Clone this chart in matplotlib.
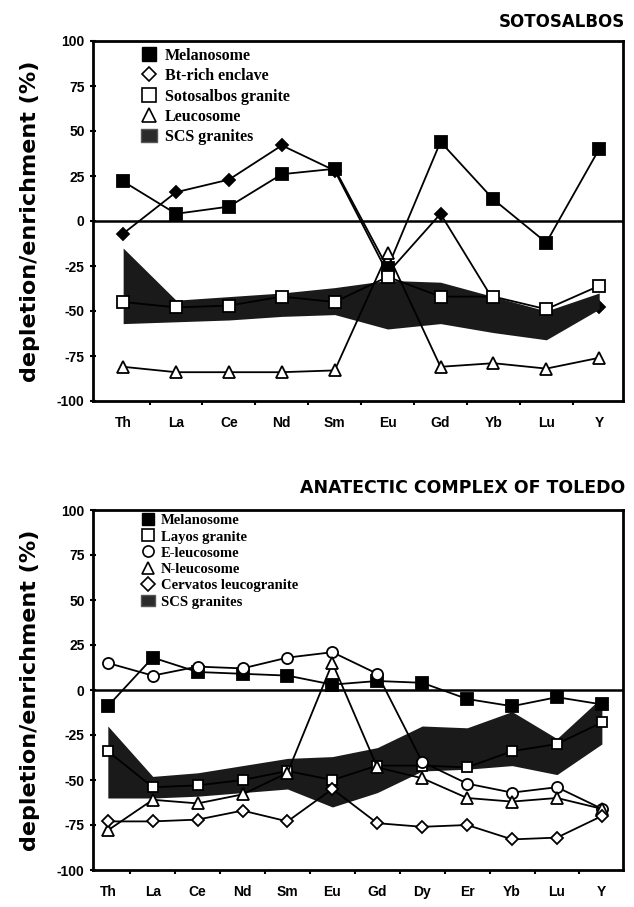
import numpy as np
import matplotlib
matplotlib.use('Agg')
import matplotlib.pyplot as plt
from matplotlib.lines import Line2D
from matplotlib.patches import Patch

# ---- Sotosalbos (top panel) ----
elements_top = ['Th', 'La', 'Ce', 'Nd', 'Sm', 'Eu', 'Gd', 'Yb', 'Lu', 'Y']
melanosome_top = [22, 4, 8, 26, 29, -26, 44, 12, -12, 40]
bt_enclave = [-7, 16, 23, 42, 28, -29, 4, -44, -55, -48]
sotosalbos_granite = [-45, -48, -47, -42, -45, -31, -42, -42, -49, -36]
leucosome_top = [-81, -84, -84, -84, -83, -18, -81, -79, -82, -76]
scs_top_hi = [-15, -44, -42, -40, -37, -33, -34, -42, -50, -40]
scs_top_lo = [-57, -56, -55, -53, -52, -60, -57, -62, -66, -49]

# ---- Anatectic complex of Toledo (bottom panel) ----
elements_bot = ['Th', 'La', 'Ce', 'Nd', 'Sm', 'Eu', 'Gd', 'Dy', 'Er', 'Yb', 'Lu', 'Y']
melanosome_bot = [-9, 18, 10, 9, 8, 3, 5, 4, -5, -9, -4, -8]
layos_granite = [-34, -54, -53, -50, -45, -50, -42, -42, -43, -34, -30, -18]
e_leucosome = [15, 8, 13, 12, 18, 21, 9, -40, -52, -57, -54, -66]
n_leucosome = [-78, -61, -63, -58, -46, 15, -43, -49, -60, -62, -60, -66]
cervatos = [-73, -73, -72, -67, -73, -55, -74, -76, -75, -83, -82, -70]
scs_bot_hi = [-20, -48, -46, -42, -38, -37, -32, -20, -21, -12, -27, -4]
scs_bot_lo = [-60, -60, -59, -57, -55, -65, -57, -45, -44, -42, -47, -30]

yticks = [-100, -75, -50, -25, 0, 25, 50, 75, 100]

BAND = '#1a1a1a'
TICKFONT = 'Liberation Sans'
LEGFONT = 'Liberation Serif'


def series(ax, vals, marker, face, ms, z=4):
    x = np.arange(len(vals))
    ax.plot(x, vals, color='black', lw=1.3, marker=marker, ms=ms,
            mfc=face, mec='black', mew=1.3, zorder=z)


def frame(ax, labels, xlim):
    n = len(labels)
    ax.set_xlim(*xlim)
    ax.set_ylim(-100, 100)
    ax.axhline(0, color='black', lw=1.8, zorder=1)
    ax.set_xticks(np.arange(n))
    ax.set_xticklabels(labels, fontfamily=TICKFONT, fontweight='bold', fontsize=10)
    ax.set_xticks(np.arange(n - 1) + 0.5, minor=True)
    ax.tick_params(axis='x', which='major', length=0, pad=11)
    ax.tick_params(axis='x', which='minor', length=3, width=1.5, direction='out')
    ax.set_yticks(yticks)
    ax.set_yticklabels([str(v) for v in yticks], fontfamily=TICKFONT,
                       fontweight='bold', fontsize=10)
    ax.tick_params(axis='y', length=4, width=1.5, direction='inout', pad=4)
    for s in ax.spines.values():
        s.set_linewidth(2)
    ax.set_ylabel('depletion/enrichment (%)', fontfamily='DejaVu Sans',
                  fontweight='bold', fontsize=16, labelpad=12)


fig = plt.figure(figsize=(6.34, 9.07), dpi=100)

# top panel
ax1 = fig.add_axes([93 / 634, 1 - 401 / 907, 530 / 634, 360 / 907])
x1 = np.arange(len(elements_top))
series(ax1, bt_enclave, 'D', 'black', 6.5, z=2)
ax1.fill_between(x1, scs_top_lo, scs_top_hi, color=BAND, lw=0, zorder=3)
series(ax1, melanosome_top, 's', 'black', 8.5)
series(ax1, sotosalbos_granite, 's', 'white', 8)
series(ax1, leucosome_top, '^', 'white', 8)
frame(ax1, elements_top, (-0.57, 9.45))

h1 = [Line2D([], [], ls='none', marker='s', ms=10, mfc='black', mec='black'),
      Line2D([], [], ls='none', marker='D', ms=7, mfc='white', mec='black', mew=1.2),
      Line2D([], [], ls='none', marker='s', ms=10, mfc='white', mec='black', mew=1.2),
      Line2D([], [], ls='none', marker='^', ms=10, mfc='white', mec='black', mew=1.2),
      Patch(facecolor='#2b2b2b', edgecolor='#555555')]
l1 = ['Melanosome', 'Bt-rich enclave', 'Sotosalbos granite', 'Leucosome', 'SCS granites']
ax1.legend(h1, l1, loc='upper left', bbox_to_anchor=(0.09, 0.98), frameon=False,
           borderaxespad=0, borderpad=0, handlelength=1.0, handleheight=0.9,
           handletextpad=0.5, labelspacing=0.25,
           prop={'family': LEGFONT, 'weight': 'bold', 'size': 11.5})

# bottom panel
ax2 = fig.add_axes([93 / 634, 1 - 870 / 907, 530 / 634, 360 / 907])
x2 = np.arange(len(elements_bot))
ax2.fill_between(x2, scs_bot_lo, scs_bot_hi, color=BAND, lw=0, zorder=2)
series(ax2, melanosome_bot, 's', 'black', 8.5)
series(ax2, layos_granite, 's', 'white', 7)
series(ax2, e_leucosome, 'o', 'white', 8)
series(ax2, n_leucosome, '^', 'white', 8)
series(ax2, cervatos, 'D', 'white', 6.5)
frame(ax2, elements_bot, (-0.33, 11.47))

h2 = [Line2D([], [], ls='none', marker='s', ms=9, mfc='black', mec='black'),
      Line2D([], [], ls='none', marker='s', ms=9, mfc='white', mec='black', mew=1.2),
      Line2D([], [], ls='none', marker='o', ms=8, mfc='white', mec='black', mew=1.2),
      Line2D([], [], ls='none', marker='^', ms=9, mfc='white', mec='black', mew=1.2),
      Line2D([], [], ls='none', marker='D', ms=7, mfc='white', mec='black', mew=1.2),
      Patch(facecolor='#2b2b2b', edgecolor='#555555')]
l2 = ['Melanosome', 'Layos granite', 'E-leucosome', 'N-leucosome',
      'Cervatos leucogranite', 'SCS granites']
ax2.legend(h2, l2, loc='upper left', bbox_to_anchor=(0.09, 0.99), frameon=False,
           borderaxespad=0, borderpad=0, handlelength=1.0, handleheight=0.8,
           handletextpad=0.4, labelspacing=0.18,
           prop={'family': LEGFONT, 'weight': 'bold', 'size': 10.5})

# panel titles
fig.text(625 / 634, 1 - 22 / 907, 'SOTOSALBOS', ha='right', va='center',
         fontfamily='DejaVu Sans', fontweight='bold', fontsize=12)
fig.text(625 / 634, 1 - 488 / 907, 'ANATECTIC COMPLEX OF TOLEDO', ha='right',
         va='center', fontfamily='DejaVu Sans', fontweight='bold', fontsize=12.5)

fig.savefig('out.png', dpi=100)
